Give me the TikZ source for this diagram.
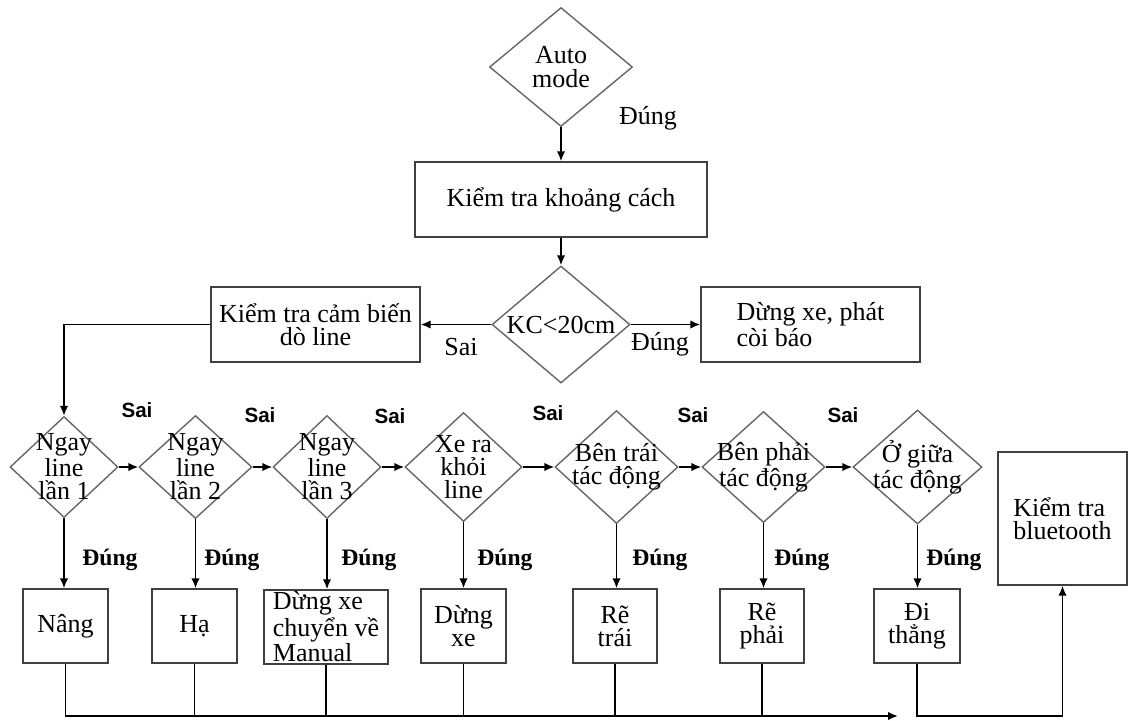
\documentclass[tikz,border=0pt]{standalone}
\usepackage{fontspec}
\setmainfont{Liberation Serif}
\newfontfamily\sansfont{Liberation Sans}
\usetikzlibrary{shapes.geometric,positioning,arrows.meta}

\def\px{0.5pt} % 1 pixel de la figure
\tikzset{
  hop/.style={draw=black!75, line width=0.7pt, rectangle, inner sep=0pt, align=center},
  losange/.style={draw=black!60, line width=0.7pt, diamond, inner sep=0pt},
  fleche/.style={->, line width=0.8pt},
  nhan/.style={font=\fontsize{13}{11.6}\selectfont},
  sai/.style={font=\sansfont\bfseries\fontsize{10.3}{12}\selectfont},
  dung/.style={font=\bfseries\fontsize{11.8}{12}\selectfont},
}

\begin{document}
\begin{tikzpicture}[x=\px, y=-\px, >={Latex[length=5pt,width=4.2pt]}]
  \useasboundingbox (0,0) rectangle (1131,720);

  % ==============================================
  % 1. PARTIE HAUTE : mode auto et distance
  % ==============================================
  \node[losange, minimum width=143*\px, minimum height=119*\px,
        label={[nhan, align=center]center:Auto\\mode}] (auto) at (561,67) {};
  \node[hop, nhan, minimum width=292*\px, minimum height=75*\px] (kt) at (561,199.5) {Kiểm tra khoảng cách};
  \node[losange, minimum width=138*\px, minimum height=117*\px,
        label={[nhan]center:KC<20cm}] (kc) at (561,324.5) {};
  \node[hop, nhan, minimum width=209*\px, minimum height=75*\px] (cb) at (315.5,324.5) {Kiểm tra cảm biến\\dò line};
  \node[hop, nhan, minimum width=219*\px, minimum height=75*\px, align=left] (dx) at (810.5,324.5) {Dừng xe, phát\\còi báo};

  \draw[fleche] (auto) -- (kt);
  \draw[fleche] (kt) -- (kc);
  \draw[fleche] (kc) -- (cb);
  \draw[fleche] (kc) -- (dx);

  \node[nhan] (dungAuto) at (648,118) {Đúng};
  \node[nhan] (saiKc) at (461,347) {Sai};
  \node[nhan] (dungKc) at (660,344) {Đúng};

  % ==============================================
  % 2. RANGÉE DES TESTS DE LIGNE
  % ==============================================
  \foreach \n/\x/\w/\h/\txt in {
      1/64/108/101/{Ngay\\line\\lần 1},
      2/195.5/113/103/{Ngay\\line\\lần 2},
      3/327/108/103/{Ngay\\line\\lần 3},
      4/463.5/117/109/{Xe ra\\khỏi\\line},
      5/616.5/123/113/{Bên trái\\tác động},
      6/763.5/123/111/{Bên phải\\tác động},
      7/917.5/129/114/{Ở giữa\\tác động}} {
    \node[losange, minimum width=\w*\px, minimum height=\h*\px,
          label={[nhan, align=center]center:\txt}] (d\n) at (\x,467) {};
  }

  \draw[fleche] (cb.west) -| (d1.north);

  % Passage d'un test au suivant (branche Sai)
  \foreach \m [count=\n] in {2,...,7} {
    \draw[fleche] (d\n.east) -- (d\m.west);
  }
  \foreach \sx/\sy [count=\i] in {137/410, 260/415, 390/416, 548/413, 693/415, 843/415} {
    \node[sai] (sai\i) at (\sx,\sy) {Sai};
  }

  % ==============================================
  % 3. ACTIONS (branche Đúng)
  % ==============================================
  \foreach \n/\x/\w/\txt in {
      1/65.5/85/{Nâng}, 2/194.5/85/{Hạ}, 4/463.5/85/{Dừng\\xe},
      5/615/84/{Rẽ\\trái}, 6/762/84/{Rẽ\\phải}, 7/917/86/{Đi\\thẳng}} {
    \node[hop, nhan, minimum width=\w*\px, minimum height=74*\px] (b\n) at (\x,626) {\txt};
  }
  \node[hop, nhan, align=left, minimum width=124*\px, minimum height=74*\px] (b3) at (326,627) {Dừng xe\\chuyển về\\Manual};
  \node[hop, nhan, align=left, minimum width=129*\px, minimum height=133*\px] (bt) at (1062.5,518.5) {Kiểm tra\\bluetooth};

  \foreach \n/\dx in {1/110, 2/232, 3/369, 4/505, 5/660, 6/802, 7/954} {
    \draw[fleche] (d\n.south) -- (d\n.south |- b\n.north);
    \node[dung] (dung\n) at (\dx,560) {Đúng};
  }

  % Retour commun vers le bas
  \coordinate (busend) at (898,716);
  \draw[fleche] (b1.south) |- (busend);
  \foreach \n in {2,...,6} {
    \draw[line width=0.8pt] (b\n.south) -- (b\n.south |- busend);
  }
  \draw[fleche] (b7.south) -- (b7.south |- busend) -| (bt.south);

\end{tikzpicture}
\end{document}
